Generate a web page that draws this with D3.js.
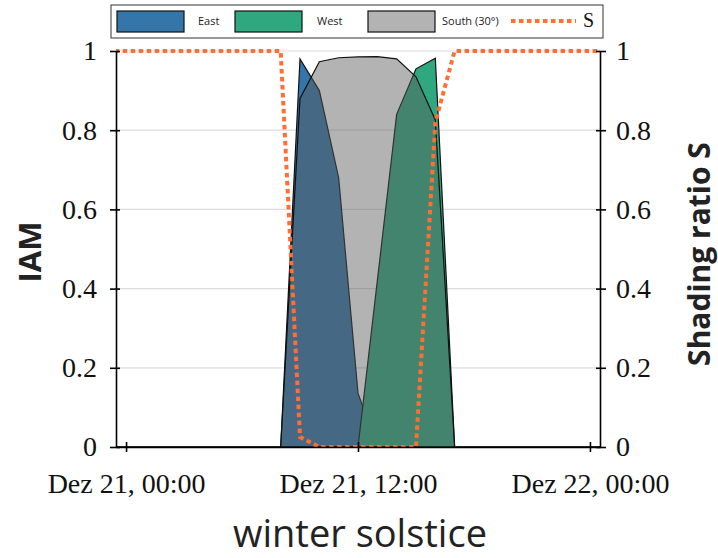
<!DOCTYPE html>
<html>
<head>
<meta charset="utf-8">
<script src="https://cdn.jsdelivr.net/npm/d3@7"></script>
<style>
body { margin: 0; background: #fff; }
</style>
</head>
<body>
<div id="chart"></div>
<script>
// hours relative to Dez 21, 00:00
var hours = [-1, 0, 1, 2, 3, 4, 5, 6, 7, 8, 9, 10, 11, 12, 13, 14, 15, 16, 17, 18, 19, 20, 21, 22, 23, 24, 25];
var east  = [0, 0, 0, 0, 0, 0, 0, 0, 0, 0, 0.98, 0.90, 0.68, 0.136, 0, 0, 0, 0, 0, 0, 0, 0, 0, 0, 0, 0, 0];
var west  = [0, 0, 0, 0, 0, 0, 0, 0, 0, 0, 0, 0, 0, 0, 0.42, 0.84, 0.955, 0.982, 0, 0, 0, 0, 0, 0, 0, 0, 0];
var south = [0, 0, 0, 0, 0, 0, 0, 0, 0, 0, 0.88, 0.973, 0.983, 0.985, 0.986, 0.98, 0.935, 0.826, 0, 0, 0, 0, 0, 0, 0, 0, 0];
var shading = [1, 1, 1, 1, 1, 1, 1, 1, 1, 1, 0.025, 0, 0, 0, 0, 0, 0, 0.82, 1, 1, 1, 1, 1, 1, 1, 1, 1];

var xTickHours = [0, 12, 24];
var xTickLabels = ["Dez 21, 00:00", "Dez 21, 12:00", "Dez 22, 00:00"];
var yTicks = [0, 0.2, 0.4, 0.6, 0.8, 1];
var yTickLabels = ["0", "0.2", "0.4", "0.6", "0.8", "1"];
var legendNames = ["East", "West", "South (30°)", "S"];

function toDate(h) {
	return new Date(Date.UTC(2020, 11, 21) + h * 3600000);
}

(function () {
var W = 718, H = 558;
var pLeft = 116, pRight = 600, pTop = 51, pBottom = 447;

var svg = d3.select("#chart").append("svg")
	.attr("width", W)
	.attr("height", H)
	.style("background", "#fff");

var x = d3.scaleUtc().domain([toDate(-0.52), toDate(24.52)]).range([pLeft, pRight]);
var y = d3.scaleLinear().domain([0, 1]).range([pBottom, pTop]);

// grid
svg.append("g").selectAll("line")
	.data(yTicks.filter(function (d) { return d > 0; }))
	.enter().append("line")
	.attr("x1", pLeft).attr("x2", pRight)
	.attr("y1", function (d) { return y(d); })
	.attr("y2", function (d) { return y(d); })
	.attr("stroke", "#dcdcdc")
	.attr("stroke-width", 1.2);

svg.append("clipPath").attr("id", "plotclip")
	.append("rect")
	.attr("x", pLeft).attr("y", pTop - 6)
	.attr("width", pRight - pLeft).attr("height", pBottom - pTop + 6);

function series(vals) {
	return hours.map(function (h, i) { return { t: toDate(h), v: vals[i] }; });
}

var area = d3.area()
	.x(function (d) { return x(d.t); })
	.y0(y(0))
	.y1(function (d) { return y(d.v); });

var plot = svg.append("g").attr("clip-path", "url(#plotclip)");

plot.append("path").datum(series(east))
	.attr("d", area)
	.attr("fill", "#3576aa")
	.attr("stroke", "#111").attr("stroke-width", 1.2);

plot.append("path").datum(series(west))
	.attr("d", area)
	.attr("fill", "#2fa880")
	.attr("stroke", "#111").attr("stroke-width", 1.2);

plot.append("path").datum(series(south))
	.attr("d", area)
	.attr("fill", "rgba(90,90,90,0.46)")
	.attr("stroke", "#111").attr("stroke-width", 1.2);

var line = d3.line()
	.x(function (d) { return x(d.t); })
	.y(function (d) { return y(d.v); });

plot.append("path").datum(series(shading))
	.attr("d", line)
	.attr("fill", "none")
	.attr("stroke", "#ff6e33")
	.attr("stroke-width", 4)
	.attr("stroke-dasharray", "4.5,3.5");

// axes
var tickFont = "'Liberation Serif', 'Times New Roman', serif";

var yLeft = svg.append("g")
	.attr("transform", "translate(" + pLeft + ",0)")
	.call(d3.axisLeft(y).tickValues(yTicks)
		.tickFormat(function (d, i) { return yTickLabels[i]; })
		.tickSize(6).tickSizeOuter(0).tickPadding(13));
yLeft.selectAll(".tick line").attr("x1", 4);

var yRight = svg.append("g")
	.attr("transform", "translate(" + pRight + ",0)")
	.call(d3.axisRight(y).tickValues(yTicks)
		.tickFormat(function (d, i) { return yTickLabels[i]; })
		.tickSize(6).tickSizeOuter(0).tickPadding(10));
yRight.selectAll(".tick line").attr("x1", -4);

var xAxis = svg.append("g")
	.attr("transform", "translate(0," + pBottom + ")")
	.call(d3.axisBottom(x).tickValues(xTickHours.map(toDate))
		.tickFormat(function (d, i) { return xTickLabels[i]; })
		.tickSize(5).tickSizeOuter(0));
xAxis.selectAll(".tick line").attr("y1", -5);
xAxis.selectAll(".tick text").attr("y", 26).attr("dy", "0.71em");

[yLeft, yRight, xAxis].forEach(function (g) {
	g.select(".domain").attr("stroke", "#000").attr("stroke-width", 1.6);
	g.selectAll(".tick line").attr("stroke", "#000").attr("stroke-width", 1.6);
	g.selectAll(".tick text")
		.attr("fill", "#111")
		.style("font-family", tickFont)
		.style("font-size", "28px");
});

// titles
svg.append("text")
	.attr("transform", "translate(41,252) rotate(-90)")
	.attr("text-anchor", "middle")
	.style("font-family", "'Open Sans', sans-serif")
	.style("font-weight", "bold")
	.style("font-size", "31px")
	.attr("fill", "#222")
	.text("IAM");

svg.append("text")
	.attr("transform", "translate(710,254) rotate(-90)")
	.attr("text-anchor", "middle")
	.style("font-family", "'Open Sans', sans-serif")
	.style("font-weight", "bold")
	.style("font-size", "30px")
	.attr("fill", "#222")
	.text("Shading ratio S");

svg.append("text")
	.attr("x", 360).attr("y", 547)
	.attr("text-anchor", "middle")
	.style("font-family", "'Open Sans', sans-serif")
	.style("font-size", "38px")
	.attr("fill", "#222")
	.text("winter solstice");

// legend
var legend = svg.append("g");
legend.append("rect")
	.attr("x", 111).attr("y", 5).attr("width", 492).attr("height", 33)
	.attr("fill", "#fff").attr("stroke", "#333").attr("stroke-width", 1);

var swatchX = [117, 235, 368];
var swatchFill = ["#3576aa", "#2fa880", "#b3b3b3"];
var labelX = [198, 317, 442];
swatchX.forEach(function (sx, i) {
	legend.append("rect")
		.attr("x", sx).attr("y", 11).attr("width", 67).attr("height", 21)
		.attr("fill", swatchFill[i]).attr("stroke", "#111").attr("stroke-width", 1.2);
	legend.append("text")
		.attr("x", labelX[i]).attr("y", 25)
		.style("font-family", "'Open Sans', sans-serif")
		.style("font-size", "11px")
		.attr("fill", "#222")
		.text(legendNames[i]);
});
legend.append("line")
	.attr("x1", 511).attr("x2", 576).attr("y1", 21).attr("y2", 21)
	.attr("stroke", "#ff6e33").attr("stroke-width", 4)
	.attr("stroke-dasharray", "4.5,3.5");
legend.append("text")
	.attr("x", 583).attr("y", 27)
	.style("font-family", tickFont)
	.style("font-size", "20px")
	.attr("fill", "#111")
	.text(legendNames[3]);
})();
</script>
</body>
</html>
